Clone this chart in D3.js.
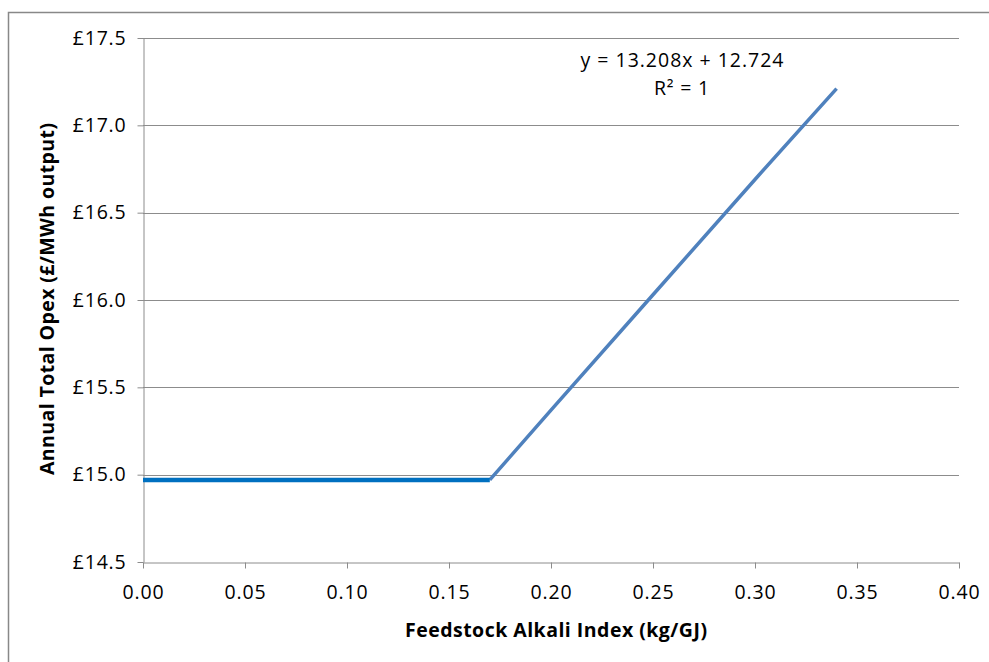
<!DOCTYPE html>
<html><head><meta charset="utf-8">
<script src="https://cdn.jsdelivr.net/npm/d3@7"></script>
<style>body{margin:0;background:#fff}svg{display:block}</style>
</head><body>
<script>
const flatX = [0.00, 0.17];
const flatY = [14.97, 14.97];
const slopeX = [0.17, 0.20, 0.25, 0.30, 0.34];
const slopeY = [14.97, 15.37, 16.03, 16.69, 17.21];
const xTicks = [0, 0.05, 0.10, 0.15, 0.20, 0.25, 0.30, 0.35, 0.40];
const yTicks = [14.5, 15.0, 15.5, 16.0, 16.5, 17.0, 17.5];
const equationText = "y = 13.208x + 12.724";
const r2Text = "R² = 1";
const xTitle = "Feedstock Alkali Index (kg/GJ)";
const yTitle = "Annual Total Opex (£/MWh output)";

(function () {
const W = 989, H = 662;
const mL = 143, mR = 959, mT = 38, mB = 562;
const font = "'Open Sans', sans-serif";
const fs = "19.5px";
const svg = d3.select("body").append("svg").attr("width", W).attr("height", H);
svg.append("rect").attr("x", 8.5).attr("y", 12.5).attr("width", 1000).attr("height", 700)
  .attr("fill", "none").attr("stroke", "#888").attr("stroke-width", 1.5);

const x = d3.scaleLinear().domain([0, 0.40]).range([mL, mR]);
const y = d3.scaleLinear().domain([14.5, 17.5]).range([mB, mT]);

svg.append("g").selectAll("line").data(yTicks.filter(d => d > 14.5)).join("line")
  .attr("x1", mL).attr("x2", mR)
  .attr("y1", d => Math.round(y(d)) + 0.5).attr("y2", d => Math.round(y(d)) + 0.5)
  .attr("stroke", "#8c8c8c").attr("stroke-width", 1);

const xAxis = svg.append("g").attr("transform", `translate(0,${mB + 0.5})`)
  .call(d3.axisBottom(x).tickValues(xTicks).tickFormat(d3.format(".2f")).tickSizeInner(6).tickSizeOuter(0));
const yAxis = svg.append("g").attr("transform", `translate(${mL + 0.5},0)`)
  .call(d3.axisLeft(y).tickValues(yTicks).tickFormat(d => "£" + d3.format(".1f")(d)).tickSizeInner(6).tickSizeOuter(0));
[xAxis, yAxis].forEach(a => {
  a.selectAll("path,line").attr("stroke", "#8c8c8c");
  a.selectAll("text").attr("fill", "#000").style("font-family", font).style("font-size", fs)
    .style("letter-spacing", "0.8px");
});
xAxis.selectAll("text").attr("y", 23).attr("dy", "0.71em");
yAxis.selectAll("text").attr("x", -17);

const line = d3.line().x(d => x(d[0])).y(d => y(d[1]));
svg.append("path").datum(slopeX.map((v, i) => [v, slopeY[i]]))
  .attr("d", line).attr("fill", "none").attr("stroke", "#4f81bd").attr("stroke-width", 3.5);
svg.append("path").datum(flatX.map((v, i) => [v, flatY[i]]))
  .attr("d", line).attr("fill", "none").attr("stroke", "#0070c0").attr("stroke-width", 4.5);

svg.append("text").attr("x", 682).attr("y", 67).attr("text-anchor", "middle")
  .attr("textLength", 203).attr("lengthAdjust", "spacing")
  .style("font-family", font).style("font-size", fs).text(equationText);
svg.append("text").attr("x", 682).attr("y", 95).attr("text-anchor", "middle")
  .style("font-family", font).style("font-size", fs).style("letter-spacing", "0.8px").text(r2Text);

svg.append("text").attr("x", 556).attr("y", 637).attr("text-anchor", "middle")
  .attr("textLength", 302).attr("lengthAdjust", "spacing")
  .style("font-family", font).style("font-size", fs).style("font-weight", "bold").text(xTitle);
svg.append("text").attr("transform", `translate(54,299) rotate(-90)`)
  .attr("text-anchor", "middle")
  .attr("textLength", 352).attr("lengthAdjust", "spacing")
  .style("font-family", font).style("font-size", fs).style("font-weight", "bold").text(yTitle);
})();
</script>
</body></html>
